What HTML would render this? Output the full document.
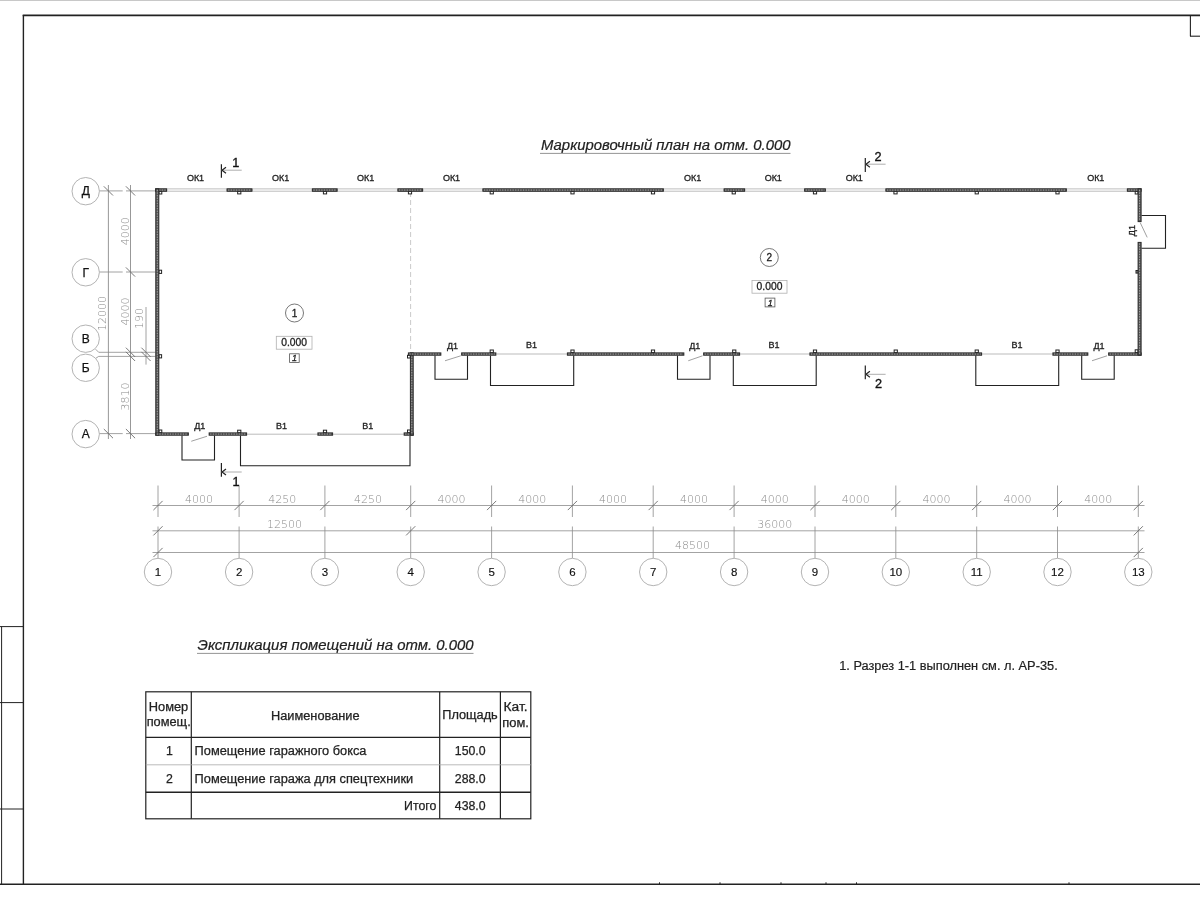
<!DOCTYPE html>
<html lang="ru"><head><meta charset="utf-8"><title>Маркировочный план на отм. 0.000</title>
<style>
html,body{margin:0;padding:0;background:#fff;}
body{width:1200px;height:900px;overflow:hidden;}
svg{display:block;filter:grayscale(1);font-family:"Liberation Sans",sans-serif;}
svg .dimt text{font-family:"DejaVu Sans","Liberation Sans",sans-serif;font-weight:200;}
</style></head><body>
<svg width="1200" height="900" viewBox="0 0 1200 900">
<rect x="0" y="0" width="1200" height="900" fill="#fff"/>
<line x1="0" y1="0.5" x2="1200" y2="0.5" stroke="#c8c8c8" stroke-width="1" />
<line x1="22.7" y1="15.4" x2="1200" y2="15.4" stroke="#222" stroke-width="1.6" />
<line x1="23.4" y1="15" x2="23.4" y2="885" stroke="#222" stroke-width="1.4" />
<line x1="0" y1="884.2" x2="1200" y2="884.2" stroke="#222" stroke-width="1.4" />
<line x1="1190.4" y1="15" x2="1190.4" y2="36.2" stroke="#222" stroke-width="1.1" />
<line x1="1190" y1="36.2" x2="1200" y2="36.2" stroke="#222" stroke-width="1.1" />
<line x1="1.6" y1="626.5" x2="1.6" y2="884" stroke="#222" stroke-width="1" />
<line x1="0" y1="626.6" x2="23.4" y2="626.6" stroke="#222" stroke-width="1" />
<line x1="0" y1="702.6" x2="23.4" y2="702.6" stroke="#222" stroke-width="1" />
<line x1="0" y1="809" x2="23.4" y2="809" stroke="#222" stroke-width="1" />
<line x1="659.5" y1="882.3" x2="659.5" y2="884" stroke="#222" stroke-width="1" />
<line x1="720" y1="882.3" x2="720" y2="884" stroke="#222" stroke-width="1" />
<line x1="781" y1="882.3" x2="781" y2="884" stroke="#222" stroke-width="1" />
<line x1="826" y1="882.3" x2="826" y2="884" stroke="#222" stroke-width="1" />
<line x1="856.5" y1="882.3" x2="856.5" y2="884" stroke="#222" stroke-width="1" />
<line x1="1069" y1="882.3" x2="1069" y2="884" stroke="#222" stroke-width="1" />
<g class="dim">
<line x1="152.5" y1="505.5" x2="1144.5" y2="505.5" stroke="#8c8c8c" stroke-width="0.8" />
<line x1="152.5" y1="530.8" x2="1144.5" y2="530.8" stroke="#8c8c8c" stroke-width="0.8" />
<line x1="152.5" y1="552.5" x2="1144.5" y2="552.5" stroke="#8c8c8c" stroke-width="0.8" />
<line x1="158" y1="485.5" x2="158" y2="517" stroke="#8c8c8c" stroke-width="0.8" />
<line x1="158" y1="526.5" x2="158" y2="558.5" stroke="#8c8c8c" stroke-width="0.8" />
<line x1="239.1" y1="485.5" x2="239.1" y2="517" stroke="#8c8c8c" stroke-width="0.8" />
<line x1="239.1" y1="526.5" x2="239.1" y2="558.5" stroke="#8c8c8c" stroke-width="0.8" />
<line x1="324.9" y1="485.5" x2="324.9" y2="517" stroke="#8c8c8c" stroke-width="0.8" />
<line x1="324.9" y1="526.5" x2="324.9" y2="558.5" stroke="#8c8c8c" stroke-width="0.8" />
<line x1="410.7" y1="485.5" x2="410.7" y2="517" stroke="#8c8c8c" stroke-width="0.8" />
<line x1="410.7" y1="526.5" x2="410.7" y2="558.5" stroke="#8c8c8c" stroke-width="0.8" />
<line x1="491.6" y1="485.5" x2="491.6" y2="517" stroke="#8c8c8c" stroke-width="0.8" />
<line x1="491.6" y1="526.5" x2="491.6" y2="558.5" stroke="#8c8c8c" stroke-width="0.8" />
<line x1="572.4" y1="485.5" x2="572.4" y2="517" stroke="#8c8c8c" stroke-width="0.8" />
<line x1="572.4" y1="526.5" x2="572.4" y2="558.5" stroke="#8c8c8c" stroke-width="0.8" />
<line x1="653.2" y1="485.5" x2="653.2" y2="517" stroke="#8c8c8c" stroke-width="0.8" />
<line x1="653.2" y1="526.5" x2="653.2" y2="558.5" stroke="#8c8c8c" stroke-width="0.8" />
<line x1="734.1" y1="485.5" x2="734.1" y2="517" stroke="#8c8c8c" stroke-width="0.8" />
<line x1="734.1" y1="526.5" x2="734.1" y2="558.5" stroke="#8c8c8c" stroke-width="0.8" />
<line x1="815" y1="485.5" x2="815" y2="517" stroke="#8c8c8c" stroke-width="0.8" />
<line x1="815" y1="526.5" x2="815" y2="558.5" stroke="#8c8c8c" stroke-width="0.8" />
<line x1="895.8" y1="485.5" x2="895.8" y2="517" stroke="#8c8c8c" stroke-width="0.8" />
<line x1="895.8" y1="526.5" x2="895.8" y2="558.5" stroke="#8c8c8c" stroke-width="0.8" />
<line x1="976.7" y1="485.5" x2="976.7" y2="517" stroke="#8c8c8c" stroke-width="0.8" />
<line x1="976.7" y1="526.5" x2="976.7" y2="558.5" stroke="#8c8c8c" stroke-width="0.8" />
<line x1="1057.5" y1="485.5" x2="1057.5" y2="517" stroke="#8c8c8c" stroke-width="0.8" />
<line x1="1057.5" y1="526.5" x2="1057.5" y2="558.5" stroke="#8c8c8c" stroke-width="0.8" />
<line x1="1138.3" y1="485.5" x2="1138.3" y2="517" stroke="#8c8c8c" stroke-width="0.8" />
<line x1="1138.3" y1="526.5" x2="1138.3" y2="558.5" stroke="#8c8c8c" stroke-width="0.8" />
<line x1="153.4" y1="510.1" x2="162.6" y2="500.9" stroke="#6a6a6a" stroke-width="0.9" />
<line x1="234.5" y1="510.1" x2="243.7" y2="500.9" stroke="#6a6a6a" stroke-width="0.9" />
<line x1="320.29999999999995" y1="510.1" x2="329.5" y2="500.9" stroke="#6a6a6a" stroke-width="0.9" />
<line x1="406.09999999999997" y1="510.1" x2="415.3" y2="500.9" stroke="#6a6a6a" stroke-width="0.9" />
<line x1="487.0" y1="510.1" x2="496.20000000000005" y2="500.9" stroke="#6a6a6a" stroke-width="0.9" />
<line x1="567.8" y1="510.1" x2="577.0" y2="500.9" stroke="#6a6a6a" stroke-width="0.9" />
<line x1="648.6" y1="510.1" x2="657.8000000000001" y2="500.9" stroke="#6a6a6a" stroke-width="0.9" />
<line x1="729.5" y1="510.1" x2="738.7" y2="500.9" stroke="#6a6a6a" stroke-width="0.9" />
<line x1="810.4" y1="510.1" x2="819.6" y2="500.9" stroke="#6a6a6a" stroke-width="0.9" />
<line x1="891.1999999999999" y1="510.1" x2="900.4" y2="500.9" stroke="#6a6a6a" stroke-width="0.9" />
<line x1="972.1" y1="510.1" x2="981.3000000000001" y2="500.9" stroke="#6a6a6a" stroke-width="0.9" />
<line x1="1052.9" y1="510.1" x2="1062.1" y2="500.9" stroke="#6a6a6a" stroke-width="0.9" />
<line x1="1133.7" y1="510.1" x2="1142.8999999999999" y2="500.9" stroke="#6a6a6a" stroke-width="0.9" />
<line x1="153.4" y1="535.4" x2="162.6" y2="526.1999999999999" stroke="#6a6a6a" stroke-width="0.9" />
<line x1="406.09999999999997" y1="535.4" x2="415.3" y2="526.1999999999999" stroke="#6a6a6a" stroke-width="0.9" />
<line x1="1133.7" y1="535.4" x2="1142.8999999999999" y2="526.1999999999999" stroke="#6a6a6a" stroke-width="0.9" />
<line x1="153.4" y1="557.1" x2="162.6" y2="547.9" stroke="#6a6a6a" stroke-width="0.9" />
<line x1="1133.7" y1="557.1" x2="1142.8999999999999" y2="547.9" stroke="#6a6a6a" stroke-width="0.9" />
</g>
<g class="dimt">
<text x="198.9" y="503.3" font-size="11" text-anchor="middle" fill="#8a8a8a" >4000</text>
<text x="282.3" y="503.3" font-size="11" text-anchor="middle" fill="#8a8a8a" >4250</text>
<text x="368.1" y="503.3" font-size="11" text-anchor="middle" fill="#8a8a8a" >4250</text>
<text x="451.40000000000003" y="503.3" font-size="11" text-anchor="middle" fill="#8a8a8a" >4000</text>
<text x="532.3" y="503.3" font-size="11" text-anchor="middle" fill="#8a8a8a" >4000</text>
<text x="613.0999999999999" y="503.3" font-size="11" text-anchor="middle" fill="#8a8a8a" >4000</text>
<text x="694.0" y="503.3" font-size="11" text-anchor="middle" fill="#8a8a8a" >4000</text>
<text x="774.8" y="503.3" font-size="11" text-anchor="middle" fill="#8a8a8a" >4000</text>
<text x="855.6999999999999" y="503.3" font-size="11" text-anchor="middle" fill="#8a8a8a" >4000</text>
<text x="936.5" y="503.3" font-size="11" text-anchor="middle" fill="#8a8a8a" >4000</text>
<text x="1017.4" y="503.3" font-size="11" text-anchor="middle" fill="#8a8a8a" >4000</text>
<text x="1098.2" y="503.3" font-size="11" text-anchor="middle" fill="#8a8a8a" >4000</text>
<text x="284.6" y="528.3" font-size="11" text-anchor="middle" fill="#8a8a8a" >12500</text>
<text x="774.8" y="528.3" font-size="11" text-anchor="middle" fill="#8a8a8a" >36000</text>
<text x="692.5" y="549.3" font-size="11" text-anchor="middle" fill="#8a8a8a" >48500</text>
</g>
<circle cx="158" cy="572" r="13.7" fill="#fff" stroke="#aaa" stroke-width="0.9"/>
<text x="158" y="576" font-size="11.5" text-anchor="middle" fill="#111" stroke="#111" stroke-width="0.15">1</text>
<circle cx="239.1" cy="572" r="13.7" fill="#fff" stroke="#aaa" stroke-width="0.9"/>
<text x="239.1" y="576" font-size="11.5" text-anchor="middle" fill="#111" stroke="#111" stroke-width="0.15">2</text>
<circle cx="324.9" cy="572" r="13.7" fill="#fff" stroke="#aaa" stroke-width="0.9"/>
<text x="324.9" y="576" font-size="11.5" text-anchor="middle" fill="#111" stroke="#111" stroke-width="0.15">3</text>
<circle cx="410.7" cy="572" r="13.7" fill="#fff" stroke="#aaa" stroke-width="0.9"/>
<text x="410.7" y="576" font-size="11.5" text-anchor="middle" fill="#111" stroke="#111" stroke-width="0.15">4</text>
<circle cx="491.6" cy="572" r="13.7" fill="#fff" stroke="#aaa" stroke-width="0.9"/>
<text x="491.6" y="576" font-size="11.5" text-anchor="middle" fill="#111" stroke="#111" stroke-width="0.15">5</text>
<circle cx="572.4" cy="572" r="13.7" fill="#fff" stroke="#aaa" stroke-width="0.9"/>
<text x="572.4" y="576" font-size="11.5" text-anchor="middle" fill="#111" stroke="#111" stroke-width="0.15">6</text>
<circle cx="653.2" cy="572" r="13.7" fill="#fff" stroke="#aaa" stroke-width="0.9"/>
<text x="653.2" y="576" font-size="11.5" text-anchor="middle" fill="#111" stroke="#111" stroke-width="0.15">7</text>
<circle cx="734.1" cy="572" r="13.7" fill="#fff" stroke="#aaa" stroke-width="0.9"/>
<text x="734.1" y="576" font-size="11.5" text-anchor="middle" fill="#111" stroke="#111" stroke-width="0.15">8</text>
<circle cx="815" cy="572" r="13.7" fill="#fff" stroke="#aaa" stroke-width="0.9"/>
<text x="815" y="576" font-size="11.5" text-anchor="middle" fill="#111" stroke="#111" stroke-width="0.15">9</text>
<circle cx="895.8" cy="572" r="13.7" fill="#fff" stroke="#aaa" stroke-width="0.9"/>
<text x="895.8" y="576" font-size="11.5" text-anchor="middle" fill="#111" stroke="#111" stroke-width="0.15">10</text>
<circle cx="976.7" cy="572" r="13.7" fill="#fff" stroke="#aaa" stroke-width="0.9"/>
<text x="976.7" y="576" font-size="11.5" text-anchor="middle" fill="#111" stroke="#111" stroke-width="0.15">11</text>
<circle cx="1057.5" cy="572" r="13.7" fill="#fff" stroke="#aaa" stroke-width="0.9"/>
<text x="1057.5" y="576" font-size="11.5" text-anchor="middle" fill="#111" stroke="#111" stroke-width="0.15">12</text>
<circle cx="1138.3" cy="572" r="13.7" fill="#fff" stroke="#aaa" stroke-width="0.9"/>
<text x="1138.3" y="576" font-size="11.5" text-anchor="middle" fill="#111" stroke="#111" stroke-width="0.15">13</text>
<g class="dim">
<line x1="108.4" y1="185" x2="108.4" y2="439" stroke="#8c8c8c" stroke-width="0.9" />
<line x1="130.5" y1="185" x2="130.5" y2="439" stroke="#8c8c8c" stroke-width="0.9" />
<line x1="146" y1="307" x2="146" y2="364.6" stroke="#8c8c8c" stroke-width="0.8" />
<line x1="99.3" y1="190.9" x2="122.7" y2="190.9" stroke="#8c8c8c" stroke-width="0.8" />
<line x1="126" y1="190.9" x2="155.5" y2="190.9" stroke="#8c8c8c" stroke-width="0.8" />
<line x1="99.3" y1="272" x2="122.7" y2="272" stroke="#8c8c8c" stroke-width="0.8" />
<line x1="126" y1="272" x2="155.5" y2="272" stroke="#8c8c8c" stroke-width="0.8" />
<line x1="99.3" y1="433.6" x2="122.7" y2="433.6" stroke="#8c8c8c" stroke-width="0.8" />
<line x1="126" y1="433.6" x2="155.5" y2="433.6" stroke="#8c8c8c" stroke-width="0.8" />
<polyline points="95.6,349.2 98.7,352.3 155.5,352.3" fill="none" stroke="#8c8c8c" stroke-width="0.8"/>
<polyline points="95.6,358.4 98.7,356.4 155.5,356.4" fill="none" stroke="#8c8c8c" stroke-width="0.8"/>
<line x1="103.80000000000001" y1="186.3" x2="113.0" y2="195.5" stroke="#6a6a6a" stroke-width="0.9" />
<line x1="125.9" y1="186.3" x2="135.1" y2="195.5" stroke="#6a6a6a" stroke-width="0.9" />
<line x1="125.9" y1="267.4" x2="135.1" y2="276.6" stroke="#6a6a6a" stroke-width="0.9" />
<line x1="103.80000000000001" y1="429.0" x2="113.0" y2="438.20000000000005" stroke="#6a6a6a" stroke-width="0.9" />
<line x1="125.9" y1="429.0" x2="135.1" y2="438.20000000000005" stroke="#6a6a6a" stroke-width="0.9" />
<line x1="125.9" y1="347.7" x2="135.1" y2="356.90000000000003" stroke="#6a6a6a" stroke-width="0.9" />
<line x1="125.9" y1="351.79999999999995" x2="135.1" y2="361.0" stroke="#6a6a6a" stroke-width="0.9" />
<line x1="141.4" y1="347.7" x2="150.6" y2="356.90000000000003" stroke="#6a6a6a" stroke-width="0.9" />
<line x1="141.4" y1="351.79999999999995" x2="150.6" y2="361.0" stroke="#6a6a6a" stroke-width="0.9" />
</g>
<g class="dimt">
<text x="0" y="0" font-size="11" text-anchor="middle" fill="#8a8a8a" transform="translate(105.5,313.4) rotate(-90)">12000</text>
<text x="0" y="0" font-size="11" text-anchor="middle" fill="#8a8a8a" transform="translate(128.6,231.3) rotate(-90)">4000</text>
<text x="0" y="0" font-size="11" text-anchor="middle" fill="#8a8a8a" transform="translate(128.6,311.5) rotate(-90)">4000</text>
<text x="0" y="0" font-size="11" text-anchor="middle" fill="#8a8a8a" transform="translate(128.6,396.5) rotate(-90)">3810</text>
<text x="0" y="0" font-size="11" text-anchor="middle" fill="#8a8a8a" transform="translate(143.2,318.4) rotate(-90)">190</text>
</g>
<circle cx="85.7" cy="191.2" r="13.7" fill="#fff" stroke="#aaa" stroke-width="0.9"/>
<text x="85.7" y="195.39999999999998" font-size="12" text-anchor="middle" fill="#111" stroke="#111" stroke-width="0.25">Д</text>
<circle cx="85.7" cy="272.3" r="13.7" fill="#fff" stroke="#aaa" stroke-width="0.9"/>
<text x="85.7" y="276.5" font-size="12" text-anchor="middle" fill="#111" stroke="#111" stroke-width="0.25">Г</text>
<circle cx="85.7" cy="338.7" r="13.7" fill="#fff" stroke="#aaa" stroke-width="0.9"/>
<text x="85.7" y="342.9" font-size="12" text-anchor="middle" fill="#111" stroke="#111" stroke-width="0.25">В</text>
<circle cx="85.7" cy="367.8" r="13.7" fill="#fff" stroke="#aaa" stroke-width="0.9"/>
<text x="85.7" y="372.0" font-size="12" text-anchor="middle" fill="#111" stroke="#111" stroke-width="0.25">Б</text>
<circle cx="85.7" cy="434.1" r="13.7" fill="#fff" stroke="#aaa" stroke-width="0.9"/>
<text x="85.7" y="438.3" font-size="12" text-anchor="middle" fill="#111" stroke="#111" stroke-width="0.25">А</text>
<line x1="410.6" y1="192" x2="410.6" y2="352" stroke="#bbb" stroke-width="0.8" stroke-dasharray="5 3"/>
<polyline points="182,435.5 182,460 214.5,460 214.5,435.5" fill="none" stroke="#222" stroke-width="1.1"/>
<polyline points="240.5,435.5 240.5,465.7 410,465.7 410,435.5" fill="none" stroke="#222" stroke-width="1.1"/>
<polyline points="435,355.5 435,379.2 467.5,379.2 467.5,355.5" fill="none" stroke="#222" stroke-width="1.1"/>
<polyline points="677.5,355.5 677.5,379.2 710,379.2 710,355.5" fill="none" stroke="#222" stroke-width="1.1"/>
<polyline points="1081.7,355.5 1081.7,379.2 1114.2,379.2 1114.2,355.5" fill="none" stroke="#222" stroke-width="1.1"/>
<polyline points="490.5,355.5 490.5,385.5 573.7,385.5 573.7,355.5" fill="none" stroke="#222" stroke-width="1.1"/>
<polyline points="733.3,355.5 733.3,385.5 816.2,385.5 816.2,355.5" fill="none" stroke="#222" stroke-width="1.1"/>
<polyline points="975.8,355.5 975.8,385.5 1058.7,385.5 1058.7,355.5" fill="none" stroke="#222" stroke-width="1.1"/>
<polyline points="1141.5,215.5 1165.5,215.5 1165.5,248.2 1141.5,248.2" fill="none" stroke="#222" stroke-width="1.1"/>
<rect x="167" y="188.8" width="59.7" height="2.5" fill="#ebebeb" stroke="#b4b4b4" stroke-width="0.6" />
<rect x="252.3" y="188.8" width="59.7" height="2.5" fill="#ebebeb" stroke="#b4b4b4" stroke-width="0.6" />
<rect x="337.5" y="188.8" width="60.0" height="2.5" fill="#ebebeb" stroke="#b4b4b4" stroke-width="0.6" />
<rect x="423" y="188.8" width="59.5" height="2.5" fill="#ebebeb" stroke="#b4b4b4" stroke-width="0.6" />
<rect x="663.75" y="188.8" width="60.0" height="2.5" fill="#ebebeb" stroke="#b4b4b4" stroke-width="0.6" />
<rect x="745" y="188.8" width="59.25" height="2.5" fill="#ebebeb" stroke="#b4b4b4" stroke-width="0.6" />
<rect x="825.75" y="188.8" width="59.75" height="2.5" fill="#ebebeb" stroke="#b4b4b4" stroke-width="0.6" />
<rect x="1066.75" y="188.8" width="60.25" height="2.5" fill="#ebebeb" stroke="#b4b4b4" stroke-width="0.6" />
<line x1="247" y1="434.2" x2="317.5" y2="434.2" stroke="#aaa" stroke-width="0.8" />
<line x1="333" y1="434.2" x2="403.75" y2="434.2" stroke="#aaa" stroke-width="0.8" />
<line x1="496.25" y1="354" x2="567" y2="354" stroke="#aaa" stroke-width="0.8" />
<line x1="740" y1="354" x2="809.5" y2="354" stroke="#aaa" stroke-width="0.8" />
<line x1="982" y1="354" x2="1052.5" y2="354" stroke="#aaa" stroke-width="0.8" />
<rect x="237.65" y="191.3" width="3.2" height="2.6" fill="#fff" stroke="#222" stroke-width="1" />
<rect x="323.4" y="191.3" width="3.2" height="2.6" fill="#fff" stroke="#222" stroke-width="1" />
<rect x="408.4" y="191.3" width="3.2" height="2.6" fill="#fff" stroke="#222" stroke-width="1" />
<rect x="490.15" y="191.3" width="3.2" height="2.6" fill="#fff" stroke="#222" stroke-width="1" />
<rect x="570.9" y="191.3" width="3.2" height="2.6" fill="#fff" stroke="#222" stroke-width="1" />
<rect x="651.4" y="191.3" width="3.2" height="2.6" fill="#fff" stroke="#222" stroke-width="1" />
<rect x="732.15" y="191.3" width="3.2" height="2.6" fill="#fff" stroke="#222" stroke-width="1" />
<rect x="813.4" y="191.3" width="3.2" height="2.6" fill="#fff" stroke="#222" stroke-width="1" />
<rect x="893.9" y="191.3" width="3.2" height="2.6" fill="#fff" stroke="#222" stroke-width="1" />
<rect x="975.15" y="191.3" width="3.2" height="2.6" fill="#fff" stroke="#222" stroke-width="1" />
<rect x="1055.9" y="191.3" width="3.2" height="2.6" fill="#fff" stroke="#222" stroke-width="1" />
<rect x="237.65" y="430.2" width="3.2" height="2.6" fill="#fff" stroke="#222" stroke-width="1" />
<rect x="323.4" y="430.2" width="3.2" height="2.6" fill="#fff" stroke="#222" stroke-width="1" />
<rect x="490.15" y="350" width="3.2" height="2.6" fill="#fff" stroke="#222" stroke-width="1" />
<rect x="570.9" y="350" width="3.2" height="2.6" fill="#fff" stroke="#222" stroke-width="1" />
<rect x="651.4" y="350" width="3.2" height="2.6" fill="#fff" stroke="#222" stroke-width="1" />
<rect x="732.65" y="350" width="3.2" height="2.6" fill="#fff" stroke="#222" stroke-width="1" />
<rect x="813.4" y="350" width="3.2" height="2.6" fill="#fff" stroke="#222" stroke-width="1" />
<rect x="894.15" y="350" width="3.2" height="2.6" fill="#fff" stroke="#222" stroke-width="1" />
<rect x="975.15" y="350" width="3.2" height="2.6" fill="#fff" stroke="#222" stroke-width="1" />
<rect x="1055.9" y="350" width="3.2" height="2.6" fill="#fff" stroke="#222" stroke-width="1" />
<rect x="159" y="270.2" width="2.6" height="3.2" fill="#fff" stroke="#222" stroke-width="1" />
<rect x="159" y="354.7" width="2.6" height="3.2" fill="#fff" stroke="#222" stroke-width="1" />
<rect x="1136" y="270.5" width="2.2" height="2.6" fill="#999" stroke="#222" stroke-width="1" />
<rect x="159" y="191.3" width="2.8" height="2.7" fill="#fff" stroke="#222" stroke-width="1" />
<rect x="1135.2" y="191.3" width="2.8" height="2.7" fill="#fff" stroke="#222" stroke-width="1" />
<rect x="159" y="430" width="2.8" height="2.7" fill="#fff" stroke="#222" stroke-width="1" />
<rect x="407.5" y="430" width="2.8" height="2.7" fill="#fff" stroke="#222" stroke-width="1" />
<rect x="407.5" y="355.3" width="2.8" height="2.7" fill="#fff" stroke="#222" stroke-width="1" />
<rect x="1135.2" y="349.8" width="2.8" height="2.8" fill="#fff" stroke="#222" stroke-width="1" />
<rect x="155.6" y="188.8" width="11.0" height="2.5" fill="#5a5a5a" stroke="#2a2a2a" stroke-width="1" />
<line x1="156.6" y1="190.05" x2="165.6" y2="190.05" stroke="#b0b0b0" stroke-width="0.9" stroke-dasharray="1.3 1.3"/>
<rect x="227.1" y="188.8" width="24.8" height="2.5" fill="#5a5a5a" stroke="#2a2a2a" stroke-width="1" />
<line x1="228.1" y1="190.05" x2="250.9" y2="190.05" stroke="#b0b0b0" stroke-width="0.9" stroke-dasharray="1.3 1.3"/>
<rect x="312.4" y="188.8" width="24.7" height="2.5" fill="#5a5a5a" stroke="#2a2a2a" stroke-width="1" />
<line x1="313.4" y1="190.05" x2="336.1" y2="190.05" stroke="#b0b0b0" stroke-width="0.9" stroke-dasharray="1.3 1.3"/>
<rect x="397.9" y="188.8" width="24.7" height="2.5" fill="#5a5a5a" stroke="#2a2a2a" stroke-width="1" />
<line x1="398.9" y1="190.05" x2="421.6" y2="190.05" stroke="#b0b0b0" stroke-width="0.9" stroke-dasharray="1.3 1.3"/>
<rect x="482.9" y="188.8" width="180.45" height="2.5" fill="#5a5a5a" stroke="#2a2a2a" stroke-width="1" />
<line x1="483.9" y1="190.05" x2="662.35" y2="190.05" stroke="#b0b0b0" stroke-width="0.9" stroke-dasharray="1.3 1.3"/>
<rect x="724.15" y="188.8" width="20.45" height="2.5" fill="#5a5a5a" stroke="#2a2a2a" stroke-width="1" />
<line x1="725.15" y1="190.05" x2="743.6" y2="190.05" stroke="#b0b0b0" stroke-width="0.9" stroke-dasharray="1.3 1.3"/>
<rect x="804.65" y="188.8" width="20.7" height="2.5" fill="#5a5a5a" stroke="#2a2a2a" stroke-width="1" />
<line x1="805.65" y1="190.05" x2="824.35" y2="190.05" stroke="#b0b0b0" stroke-width="0.9" stroke-dasharray="1.3 1.3"/>
<rect x="885.9" y="188.8" width="180.45" height="2.5" fill="#5a5a5a" stroke="#2a2a2a" stroke-width="1" />
<line x1="886.9" y1="190.05" x2="1065.35" y2="190.05" stroke="#b0b0b0" stroke-width="0.9" stroke-dasharray="1.3 1.3"/>
<rect x="1127.4" y="188.8" width="13.7" height="2.5" fill="#5a5a5a" stroke="#2a2a2a" stroke-width="1" />
<line x1="1128.4" y1="190.05" x2="1140.1" y2="190.05" stroke="#b0b0b0" stroke-width="0.9" stroke-dasharray="1.3 1.3"/>
<rect x="155.8" y="188.8" width="3.0" height="246.4" fill="#5a5a5a" stroke="#2a2a2a" stroke-width="1" />
<line x1="157.3" y1="189.8" x2="157.3" y2="434.2" stroke="#b0b0b0" stroke-width="0.9" stroke-dasharray="1.3 1.3"/>
<rect x="155.8" y="432.9" width="32.55" height="2.3" fill="#5a5a5a" stroke="#2a2a2a" stroke-width="1" />
<line x1="156.8" y1="434.05" x2="187.35" y2="434.05" stroke="#b0b0b0" stroke-width="0.9" stroke-dasharray="1.3 1.3"/>
<rect x="209.15" y="432.9" width="37.45" height="2.3" fill="#5a5a5a" stroke="#2a2a2a" stroke-width="1" />
<line x1="210.15" y1="434.05" x2="245.6" y2="434.05" stroke="#b0b0b0" stroke-width="0.9" stroke-dasharray="1.3 1.3"/>
<rect x="317.9" y="432.9" width="14.7" height="2.3" fill="#5a5a5a" stroke="#2a2a2a" stroke-width="1" />
<line x1="318.9" y1="434.05" x2="331.6" y2="434.05" stroke="#b0b0b0" stroke-width="0.9" stroke-dasharray="1.3 1.3"/>
<rect x="404.15" y="432.9" width="9.05" height="2.3" fill="#5a5a5a" stroke="#2a2a2a" stroke-width="1" />
<line x1="405.15" y1="434.05" x2="412.2" y2="434.05" stroke="#b0b0b0" stroke-width="0.9" stroke-dasharray="1.3 1.3"/>
<rect x="410.4" y="352.9" width="2.8" height="82.3" fill="#5a5a5a" stroke="#2a2a2a" stroke-width="1" />
<line x1="411.8" y1="353.9" x2="411.8" y2="434.2" stroke="#b0b0b0" stroke-width="0.9" stroke-dasharray="1.3 1.3"/>
<rect x="408.4" y="352.9" width="32.45" height="2.3" fill="#5a5a5a" stroke="#2a2a2a" stroke-width="1" />
<line x1="409.4" y1="354.05" x2="439.85" y2="354.05" stroke="#b0b0b0" stroke-width="0.9" stroke-dasharray="1.3 1.3"/>
<rect x="461.65" y="352.9" width="34.2" height="2.3" fill="#5a5a5a" stroke="#2a2a2a" stroke-width="1" />
<line x1="462.65" y1="354.05" x2="494.85" y2="354.05" stroke="#b0b0b0" stroke-width="0.9" stroke-dasharray="1.3 1.3"/>
<rect x="567.4" y="352.9" width="116.45" height="2.3" fill="#5a5a5a" stroke="#2a2a2a" stroke-width="1" />
<line x1="568.4" y1="354.05" x2="682.85" y2="354.05" stroke="#b0b0b0" stroke-width="0.9" stroke-dasharray="1.3 1.3"/>
<rect x="703.65" y="352.9" width="35.95" height="2.3" fill="#5a5a5a" stroke="#2a2a2a" stroke-width="1" />
<line x1="704.65" y1="354.05" x2="738.6" y2="354.05" stroke="#b0b0b0" stroke-width="0.9" stroke-dasharray="1.3 1.3"/>
<rect x="809.9" y="352.9" width="171.7" height="2.3" fill="#5a5a5a" stroke="#2a2a2a" stroke-width="1" />
<line x1="810.9" y1="354.05" x2="980.6" y2="354.05" stroke="#b0b0b0" stroke-width="0.9" stroke-dasharray="1.3 1.3"/>
<rect x="1052.9" y="352.9" width="34.95" height="2.3" fill="#5a5a5a" stroke="#2a2a2a" stroke-width="1" />
<line x1="1053.9" y1="354.05" x2="1086.85" y2="354.05" stroke="#b0b0b0" stroke-width="0.9" stroke-dasharray="1.3 1.3"/>
<rect x="1108.65" y="352.9" width="32.45" height="2.3" fill="#5a5a5a" stroke="#2a2a2a" stroke-width="1" />
<line x1="1109.65" y1="354.05" x2="1140.1" y2="354.05" stroke="#b0b0b0" stroke-width="0.9" stroke-dasharray="1.3 1.3"/>
<rect x="1138.1" y="188.8" width="3.0" height="32.8" fill="#5a5a5a" stroke="#2a2a2a" stroke-width="1" />
<line x1="1139.6" y1="189.8" x2="1139.6" y2="220.6" stroke="#b0b0b0" stroke-width="0.9" stroke-dasharray="1.3 1.3"/>
<rect x="1138.1" y="242.4" width="3.0" height="112.8" fill="#5a5a5a" stroke="#2a2a2a" stroke-width="1" />
<line x1="1139.6" y1="243.4" x2="1139.6" y2="354.2" stroke="#b0b0b0" stroke-width="0.9" stroke-dasharray="1.3 1.3"/>
<line x1="191.25" y1="441.25" x2="207" y2="436.25" stroke="#888" stroke-width="0.8" />
<line x1="445" y1="360.75" x2="460.75" y2="355.8" stroke="#888" stroke-width="0.8" />
<line x1="688.25" y1="360.75" x2="702.5" y2="355.8" stroke="#888" stroke-width="0.8" />
<line x1="1092" y1="360.75" x2="1107" y2="355.8" stroke="#888" stroke-width="0.8" />
<line x1="1140.2" y1="222.6" x2="1147.2" y2="237.4" stroke="#888" stroke-width="0.8" />
<text x="195.5" y="181.3" font-size="9" text-anchor="middle" fill="#222" stroke="#222" stroke-width="0.3">ОК1</text>
<text x="280.6" y="181.3" font-size="9" text-anchor="middle" fill="#222" stroke="#222" stroke-width="0.3">ОК1</text>
<text x="365.6" y="181.3" font-size="9" text-anchor="middle" fill="#222" stroke="#222" stroke-width="0.3">ОК1</text>
<text x="451.5" y="181.3" font-size="9" text-anchor="middle" fill="#222" stroke="#222" stroke-width="0.3">ОК1</text>
<text x="692.6" y="181.3" font-size="9" text-anchor="middle" fill="#222" stroke="#222" stroke-width="0.3">ОК1</text>
<text x="773.25" y="181.3" font-size="9" text-anchor="middle" fill="#222" stroke="#222" stroke-width="0.3">ОК1</text>
<text x="854.25" y="181.3" font-size="9" text-anchor="middle" fill="#222" stroke="#222" stroke-width="0.3">ОК1</text>
<text x="1095.75" y="181.3" font-size="9" text-anchor="middle" fill="#222" stroke="#222" stroke-width="0.3">ОК1</text>
<text x="199.75" y="429.3" font-size="9" text-anchor="middle" fill="#222" stroke="#222" stroke-width="0.3">Д1</text>
<text x="452.5" y="348.6" font-size="9" text-anchor="middle" fill="#222" stroke="#222" stroke-width="0.3">Д1</text>
<text x="694.75" y="348.6" font-size="9" text-anchor="middle" fill="#222" stroke="#222" stroke-width="0.3">Д1</text>
<text x="1099" y="348.6" font-size="9" text-anchor="middle" fill="#222" stroke="#222" stroke-width="0.3">Д1</text>
<text x="0" y="0" font-size="9" text-anchor="middle" fill="#222" stroke="#222" stroke-width="0.3" transform="translate(1135.4,230.6) rotate(-90)">Д1</text>
<text x="281.6" y="428.8" font-size="9" text-anchor="middle" fill="#222" stroke="#222" stroke-width="0.3">В1</text>
<text x="367.75" y="428.8" font-size="9" text-anchor="middle" fill="#222" stroke="#222" stroke-width="0.3">В1</text>
<text x="531.6" y="348.3" font-size="9" text-anchor="middle" fill="#222" stroke="#222" stroke-width="0.3">В1</text>
<text x="774.1" y="348.3" font-size="9" text-anchor="middle" fill="#222" stroke="#222" stroke-width="0.3">В1</text>
<text x="1017.1" y="348.3" font-size="9" text-anchor="middle" fill="#222" stroke="#222" stroke-width="0.3">В1</text>
<line x1="221.4" y1="164.2" x2="221.4" y2="177.7" stroke="#222" stroke-width="1.2" />
<line x1="221.4" y1="170.2" x2="241.70000000000002" y2="170.2" stroke="#a5a5a5" stroke-width="0.9" />
<polyline points="226.0,167.2 222.0,170.2 226.0,173.2" fill="none" stroke="#222" stroke-width="1.2"/>
<text x="235.9" y="166.5" font-size="12.7" text-anchor="middle" fill="#111" stroke="#111" stroke-width="0.35">1</text>
<line x1="221.4" y1="463" x2="221.4" y2="476.8" stroke="#222" stroke-width="1.2" />
<line x1="221.4" y1="472" x2="241.70000000000002" y2="472" stroke="#a5a5a5" stroke-width="0.9" />
<polyline points="226.0,469 222.0,472 226.0,475" fill="none" stroke="#222" stroke-width="1.2"/>
<text x="236.1" y="485.7" font-size="12.7" text-anchor="middle" fill="#111" stroke="#111" stroke-width="0.35">1</text>
<line x1="865.3" y1="158.1" x2="865.3" y2="171.9" stroke="#222" stroke-width="1.2" />
<line x1="865.3" y1="164.2" x2="885.5999999999999" y2="164.2" stroke="#a5a5a5" stroke-width="0.9" />
<polyline points="869.9,161.2 865.9,164.2 869.9,167.2" fill="none" stroke="#222" stroke-width="1.2"/>
<text x="878.1" y="160.6" font-size="12.7" text-anchor="middle" fill="#111" stroke="#111" stroke-width="0.35">2</text>
<line x1="865.3" y1="365.4" x2="865.3" y2="379.2" stroke="#222" stroke-width="1.2" />
<line x1="865.3" y1="374.3" x2="885.5999999999999" y2="374.3" stroke="#a5a5a5" stroke-width="0.9" />
<polyline points="869.9,371.3 865.9,374.3 869.9,377.3" fill="none" stroke="#222" stroke-width="1.2"/>
<text x="878.6" y="388.1" font-size="12.7" text-anchor="middle" fill="#111" stroke="#111" stroke-width="0.35">2</text>
<circle cx="294.5" cy="313" r="9" fill="none" stroke="#555" stroke-width="0.8"/>
<text x="294.5" y="316.5" font-size="10" text-anchor="middle" fill="#222" stroke="#222" stroke-width="0.3">1</text>
<rect x="276.3" y="336.3" width="35.7" height="12.9" fill="none" stroke="#b0b0b0" stroke-width="0.8" />
<text x="294.1" y="346.2" font-size="10.3" text-anchor="middle" fill="#222" stroke="#222" stroke-width="0.3">0.000</text>
<rect x="289.6" y="353.8" width="9.6" height="8.6" fill="none" stroke="#555" stroke-width="0.8" />
<text x="294.59999999999997" y="361.09999999999997" font-size="9" text-anchor="middle" fill="#222" font-style="italic" stroke="#222" stroke-width="0.3">1</text>
<circle cx="769.3" cy="257.5" r="9" fill="none" stroke="#555" stroke-width="0.8"/>
<text x="769.3" y="261.0" font-size="10" text-anchor="middle" fill="#222" stroke="#222" stroke-width="0.3">2</text>
<rect x="752" y="280.5" width="35" height="12.7" fill="none" stroke="#b0b0b0" stroke-width="0.8" />
<text x="769.5" y="290.2" font-size="10.3" text-anchor="middle" fill="#222" stroke="#222" stroke-width="0.3">0.000</text>
<rect x="765.1" y="298.1" width="9.8" height="8.8" fill="none" stroke="#555" stroke-width="0.8" />
<text x="770.2" y="305.59999999999997" font-size="9" text-anchor="middle" fill="#222" font-style="italic" stroke="#222" stroke-width="0.3">1</text>
<g stroke="#222" stroke-width="0.2">
<text x="541.0" y="150.4" font-size="14" text-anchor="start" fill="#222" font-style="italic" textLength="249.5" lengthAdjust="spacingAndGlyphs">Маркировочный план на отм. 0.000</text>
<line x1="540" y1="153.4" x2="790.5" y2="153.4" stroke="#888" stroke-width="0.9" />
<text x="197.6" y="650" font-size="14" text-anchor="start" fill="#222" font-style="italic" textLength="276" lengthAdjust="spacingAndGlyphs">Экспликация помещений на отм. 0.000</text>
<line x1="197" y1="653.4" x2="473.5" y2="653.4" stroke="#888" stroke-width="0.9" />
<text x="839.2" y="670" font-size="12.3" text-anchor="start" fill="#222"  textLength="218.5" lengthAdjust="spacingAndGlyphs">1. Разрез 1-1 выполнен см. л. АР-35.</text>
</g>
<rect x="145.8" y="691.8" width="385.0" height="127.0" fill="none" stroke="#222" stroke-width="1.2" />
<line x1="191.3" y1="691.8" x2="191.3" y2="818.8" stroke="#222" stroke-width="1.2" />
<line x1="439.7" y1="691.8" x2="439.7" y2="818.8" stroke="#222" stroke-width="1.2" />
<line x1="500.4" y1="691.8" x2="500.4" y2="818.8" stroke="#222" stroke-width="1.2" />
<line x1="145.8" y1="737.3" x2="530.8" y2="737.3" stroke="#222" stroke-width="1.2" />
<line x1="145.8" y1="764.8" x2="530.8" y2="764.8" stroke="#aaa" stroke-width="0.8" />
<line x1="145.8" y1="792.2" x2="530.8" y2="792.2" stroke="#222" stroke-width="1.4" />
<g stroke="#222" stroke-width="0.25">
<text x="168.5" y="710.5" font-size="12.3" text-anchor="middle" fill="#222"  textLength="39.5" lengthAdjust="spacingAndGlyphs">Номер</text>
<text x="168.7" y="726.3" font-size="12.3" text-anchor="middle" fill="#222"  textLength="44" lengthAdjust="spacingAndGlyphs">помещ.</text>
<text x="315.3" y="719.5" font-size="12.3" text-anchor="middle" fill="#222"  textLength="88.6" lengthAdjust="spacingAndGlyphs">Наименование</text>
<text x="470" y="718.7" font-size="12.3" text-anchor="middle" fill="#222"  textLength="55.5" lengthAdjust="spacingAndGlyphs">Площадь</text>
<text x="515.6" y="711.3" font-size="12.3" text-anchor="middle" fill="#222"  textLength="24" lengthAdjust="spacingAndGlyphs">Кат.</text>
<text x="515.6" y="726.7" font-size="12.3" text-anchor="middle" fill="#222"  textLength="26.6" lengthAdjust="spacingAndGlyphs">пом.</text>
<text x="169.5" y="755.2" font-size="12.3" text-anchor="middle" fill="#222" >1</text>
<text x="169.5" y="782.6" font-size="12.3" text-anchor="middle" fill="#222" >2</text>
<text x="194.6" y="755.2" font-size="12.3" text-anchor="start" fill="#222"  textLength="171.8" lengthAdjust="spacingAndGlyphs">Помещение гаражного бокса</text>
<text x="194.6" y="782.6" font-size="12.3" text-anchor="start" fill="#222"  textLength="218.6" lengthAdjust="spacingAndGlyphs">Помещение гаража для спецтехники</text>
<text x="470.2" y="755.3" font-size="12.3" text-anchor="middle" fill="#222" >150.0</text>
<text x="470.2" y="782.6" font-size="12.3" text-anchor="middle" fill="#222" >288.0</text>
<text x="470.2" y="810" font-size="12.3" text-anchor="middle" fill="#222" >438.0</text>
<text x="436.3" y="810" font-size="12.3" text-anchor="end" fill="#222" >Итого</text>
</g>
</svg>
</body></html>
